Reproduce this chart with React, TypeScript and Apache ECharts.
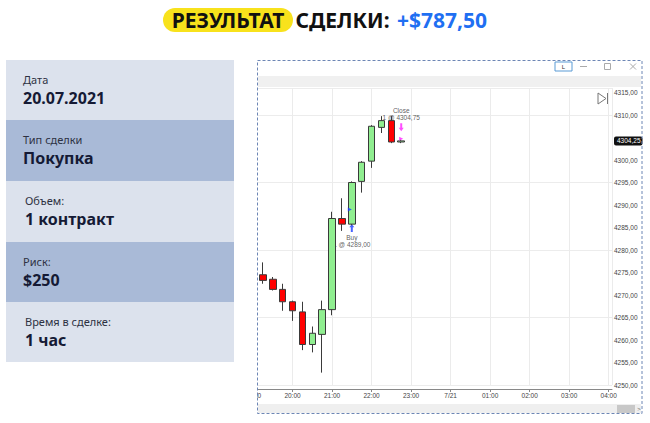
import React, { useEffect, useRef } from "react";
import * as echarts from "echarts";

// ---- data ----
const titleParts = ["РЕЗУЛЬТАТ", "СДЕЛКИ:", "+$787,50"];
const panelLabels = ["Дата", "Тип сделки", "Объем:", "Риск:", "Время в сделке:"];
const panelValues = ["20.07.2021", "Покупка", "1 контракт", "$250", "1 час"];

// minutes after 19:00 (15-minute bars)
const times = [15, 30, 45, 60, 75, 90, 105, 120, 135, 150, 165, 180, 195, 210, 225];
const opens = [4274.5, 4273.5, 4271.25, 4268.5, 4266.25, 4259.0, 4261.25, 4266.75, 4287.0, 4285.75, 4295.25, 4299.75, 4307.25, 4308.75, 4304.0];
const closes = [4273.25, 4271.25, 4268.5, 4266.5, 4259.0, 4261.5, 4266.75, 4287.0, 4285.75, 4295.0, 4299.5, 4307.5, 4308.75, 4304.0, 4304.25];
const lows = [4272.5, 4271.0, 4266.5, 4264.25, 4257.75, 4257.25, 4252.75, 4265.5, 4284.25, 4285.5, 4292.75, 4298.25, 4306.0, 4303.75, 4303.75];
const highs = [4277.25, 4274.0, 4272.5, 4268.75, 4268.5, 4263.0, 4268.75, 4288.5, 4291.5, 4295.25, 4299.75, 4307.75, 4309.75, 4309.75, 4304.5];

const buyTime = 150;
const buyPrice = 4289.0;
const buyArrowPrice = 4284.9;
const closeTime = 225;
const closePrice = 4304.75;
const closeArrowPrice = 4307.3;
const lastPrice = 4304.25;

const fmtPrice = (v: number) => v.toFixed(2).replace(".", ",");
const fmtTime = (m: number) => {
  const h = (19 + Math.round(m / 60)) % 24;
  if (h === 0) return "7/21";
  return (h < 10 ? "0" : "") + h + ":00";
};

const arrowPath = "path://M5,0 L10,5 L7,5 L7,12 L3,12 L3,5 L0,5 Z";

export default function App() {
  const ref = useRef<HTMLDivElement>(null);
  useEffect(() => {
    if (!ref.current) return;
    const chart = echarts.init(ref.current, undefined, { renderer: "svg" });

    const rowColors = ["#dce2ed", "#a9bad7", "#dce2ed", "#a9bad7", "#dce2ed"];
    const rowTops = [60, 120, 181, 242, 302];
    const rowHeights = [60, 61, 61, 60, 60];
    const rowIndent = [23, 23, 25, 23, 25];

    const graphic: any[] = [];
    // title
    graphic.push({
      type: "rect", z: 10,
      shape: { x: 163, y: 8, width: 130, height: 24, r: 12 },
      style: { fill: "#f8e21c" },
    });
    graphic.push({
      type: "text", z: 11, x: 228, y: 20,
      style: { text: titleParts[0], fill: "#111", font: 'bold 21px "Noto Sans"', align: "center", verticalAlign: "middle" },
    });
    graphic.push({
      type: "text", z: 11, x: 342.5, y: 20,
      style: { text: titleParts[1], fill: "#111", font: 'bold 21px "Noto Sans"', align: "center", verticalAlign: "middle" },
    });
    graphic.push({
      type: "text", z: 11, x: 397, y: 20,
      style: { text: titleParts[2], fill: "#1f6ff2", font: 'bold 21px "Noto Sans"', align: "left", verticalAlign: "middle" },
    });
    // left panel
    panelLabels.forEach((lab, i) => {
      graphic.push({
        type: "rect", z: 10,
        shape: { x: 6, y: rowTops[i], width: 228, height: rowHeights[i] },
        style: { fill: rowColors[i] },
      });
      graphic.push({
        type: "text", z: 11, x: rowIndent[i], y: rowTops[i] + 19,
        style: { text: lab, fill: "#2d3142", font: '11px "Noto Sans"', align: "left", verticalAlign: "middle" },
      });
      graphic.push({
        type: "text", z: 11, x: rowIndent[i], y: rowTops[i] + 38,
        style: { text: panelValues[i], fill: "#151a35", font: 'bold 16px "Noto Sans"', align: "left", verticalAlign: "middle" },
      });
    });
    // window chrome
    graphic.push({
      type: "rect", z: 50,
      shape: { x: 236, y: 86, width: 21, height: 316 },
      style: { fill: "#ffffff" },
    });
    graphic.push({
      type: "rect", z: 50,
      shape: { x: 258, y: 76, width: 383, height: 11 },
      style: { fill: "#f0f0f0" },
    });
    graphic.push({
      type: "rect", z: 50,
      shape: { x: 258, y: 404, width: 383, height: 9 },
      style: { fill: "#efefef" },
    });
    graphic.push({
      type: "rect", z: 51,
      shape: { x: 617, y: 405, width: 18, height: 8 },
      style: { fill: "#c8c8c8" },
    });
    graphic.push({
      type: "text", z: 51, x: 639, y: 409,
      style: { text: ">", fill: "#666", font: "6px Arial", align: "center", verticalAlign: "middle" },
    });
    graphic.push({
      type: "rect", z: 51,
      shape: { x: 555, y: 62, width: 17, height: 9 },
      style: { fill: "#fff", stroke: "#5b9bd5", lineWidth: 1 },
    });
    graphic.push({
      type: "text", z: 52, x: 563.5, y: 66.5,
      style: { text: "L", fill: "#333", font: "6px Arial", align: "center", verticalAlign: "middle" },
    });
    graphic.push({
      type: "line", z: 51,
      shape: { x1: 580, y1: 66.5, x2: 587, y2: 66.5 },
      style: { stroke: "#aaa", lineWidth: 1 },
    });
    graphic.push({
      type: "rect", z: 51,
      shape: { x: 604.5, y: 63.5, width: 6, height: 6 },
      style: { fill: "none", stroke: "#aaa", lineWidth: 1 },
    });
    graphic.push({
      type: "line", z: 51,
      shape: { x1: 630, y1: 63.5, x2: 636, y2: 69.5 },
      style: { stroke: "#aaa", lineWidth: 1 },
    });
    graphic.push({
      type: "line", z: 51,
      shape: { x1: 636, y1: 63.5, x2: 630, y2: 69.5 },
      style: { stroke: "#aaa", lineWidth: 1 },
    });
    graphic.push({
      type: "polygon", z: 51,
      shape: { points: [[598, 93], [598, 104], [606, 98.5]] },
      style: { fill: "none", stroke: "#777", lineWidth: 1 },
    });
    graphic.push({
      type: "line", z: 51,
      shape: { x1: 607.5, y1: 93, x2: 607.5, y2: 104 },
      style: { stroke: "#777", lineWidth: 1 },
    });
    graphic.push({
      type: "rect", z: 60,
      shape: { x: 257.5, y: 60.5, width: 384.5, height: 353 },
      style: { fill: "none", stroke: "#6d86b5", lineWidth: 1, lineDash: [3, 2] },
    });

    const candleData = times.map((t, i) => [t, opens[i], closes[i], lows[i], highs[i]]);
    const axisFont = { fontSize: 6.5, color: "#444", fontFamily: "Arial" };

    chart.setOption({
      animation: false,
      backgroundColor: "#ffffff",
      grid: { left: 253, right: 38, top: 88, bottom: 38, containLabel: false },
      xAxis: {
        type: "value",
        min: 0,
        max: 545,
        interval: 60,
        offset: 4,
        axisLine: { show: true, lineStyle: { color: "#888" } },
        axisTick: { show: true, length: 3, lineStyle: { color: "#888" } },
        axisLabel: { ...axisFont, margin: 3, showMaxLabel: false, formatter: (v: number) => fmtTime(v) },
        splitLine: { show: true, lineStyle: { color: "#ebebeb" } },
      },
      yAxis: [
        {
          type: "value",
          position: "right",
          min: 4250,
          max: 4316,
          interval: 5,
          axisLine: { show: true, lineStyle: { color: "#888" } },
          axisTick: { show: true, length: 2, lineStyle: { color: "#888" } },
          axisLabel: {
            ...axisFont,
            margin: 2,
            showMaxLabel: false,
            // the label nearest the last-price tag is hidden behind it
            formatter: (v: number) => (Math.abs(v - lastPrice) < 2.5 ? "" : fmtPrice(v)),
          },
          splitLine: { show: false },
        },
        {
          type: "value",
          position: "right",
          min: 4250,
          max: 4316,
          interval: 15,
          axisLine: { show: false },
          axisTick: { show: false },
          axisLabel: { show: false },
          splitLine: { show: true, lineStyle: { color: "#ececec" } },
        },
      ],
      series: [
        {
          type: "candlestick",
          z: 3,
          barWidth: 7,
          data: candleData,
          itemStyle: {
            color: "#90ee90",
            color0: "#ff0000",
            borderColor: "#3a3a3a",
            borderColor0: "#3a3a3a",
            borderWidth: 1,
          },
          markLine: {
            silent: true,
            symbol: "none",
            lineStyle: { color: "rgba(0,0,0,0)", width: 0 },
            label: {
              position: "end",
              distance: 2,
              formatter: () => fmtPrice(lastPrice),
              backgroundColor: "#111",
              color: "#fff",
              fontSize: 6.5,
              fontFamily: "Arial",
              padding: [1, 2, 1, 3],
              borderRadius: 2,
            },
            data: [{ yAxis: lastPrice }],
          },
        },
        {
          type: "scatter",
          z: 2,
          symbol: arrowPath,
          symbolSize: [5, 8],
          itemStyle: { color: "#1a3cff" },
          label: {
            show: true,
            position: "bottom",
            distance: 2,
            formatter: () => "Buy\n1 @ " + fmtPrice(buyPrice),
            fontSize: 6.5,
            lineHeight: 7,
            color: "#333",
            fontFamily: "Arial",
          },
          data: [[buyTime, buyArrowPrice]],
        },
        {
          type: "scatter",
          z: 2,
          symbol: arrowPath,
          symbolRotate: 180,
          symbolSize: [5, 8],
          itemStyle: { color: "#ff22ff" },
          label: {
            show: true,
            position: "top",
            distance: 2,
            formatter: () => "Close\n1 @ " + fmtPrice(closePrice),
            fontSize: 6.5,
            lineHeight: 7,
            color: "#333",
            fontFamily: "Arial",
          },
          data: [[closeTime, closeArrowPrice]],
        },
        {
          type: "scatter",
          z: 4,
          symbol: "triangle",
          symbolRotate: -90,
          symbolSize: 4,
          symbolOffset: [-2, 0],
          itemStyle: { color: "#1a3cff" },
          data: [[buyTime, buyPrice]],
        },
        {
          type: "scatter",
          z: 4,
          symbol: "triangle",
          symbolRotate: -90,
          symbolSize: 4,
          itemStyle: { color: "#ff22ff" },
          data: [[closeTime, closePrice]],
        },
      ],
      graphic,
    });
    return () => chart.dispose();
  }, []);
  return (
    <div
      ref={ref}
      style={{ position: "absolute", left: 0, top: 0, width: 650, height: 423 }}
    />
  );
}
